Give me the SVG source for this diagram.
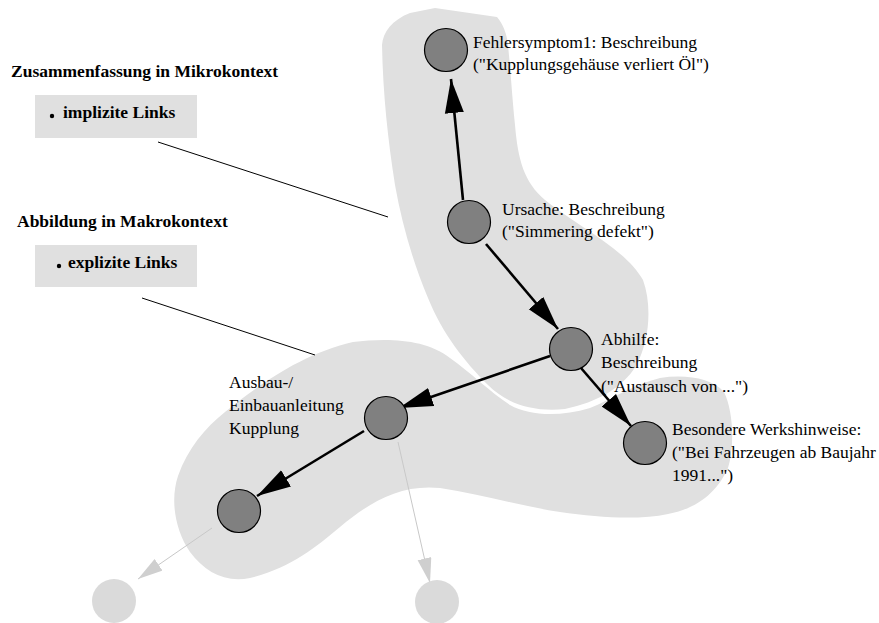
<svg xmlns="http://www.w3.org/2000/svg" width="879" height="623" viewBox="0 0 879 623">
  <style>
    .blob { fill: #e0e0e0; stroke: none; }
    .node { fill: #808080; stroke: #000; stroke-width: 1.2; }
    .ghost { fill: #dadada; stroke: none; }
    .link { stroke: #000; stroke-width: 2.6; fill: none; }
    .faint { stroke: #c8c8c8; stroke-width: 1; fill: none; }
    .pointer { stroke: #000; stroke-width: 1; fill: none; }
    .lbl { font-family: "Liberation Serif", "Times New Roman", serif; font-size: 17.5px; fill: #000; }
    .head { font-family: "Liberation Serif", "Times New Roman", serif; font-size: 17.5px; font-weight: bold; fill: #000; }
    .panel { fill: #e0e0e0; stroke: none; }
  </style>
  <defs>
    <marker id="arrow" markerUnits="userSpaceOnUse" markerWidth="36" markerHeight="22" refX="34" refY="10" orient="auto">
      <path d="M0,0.5 L34,10 L0,19.5 Z" fill="#000"/>
    </marker>
    <marker id="arrow-faint" markerUnits="userSpaceOnUse" markerWidth="26" markerHeight="16" refX="25" refY="7" orient="auto">
      <path d="M0,0 L25,7 L0,14 Z" fill="#cfcfcf"/>
    </marker>
  </defs>

  <!-- context regions -->
  <g id="regions">
    <path class="blob" d="M353,342 C385,338 425,338 450,358 C470,372 490,392 510,405 C530,416 560,417 590,408 C610,400 635,384 660,378 C685,374 712,378 724,392 C733,410 735,445 728,468 C718,490 700,508 668,514 C640,520 600,518 560,512 C520,506 480,494 440,488 C400,484 370,502 340,527 C315,548 290,568 250,578 C225,583 205,572 190,552 C175,530 170,500 178,476 C188,448 205,428 225,412 C255,388 300,354 353,342 Z"/>
    <path class="blob" d="M382,45 C383,32 392,20 410,13 L435,8 L497,17 C503,24 507,34 508,45 C511,75 512,95 515,125 C518,160 524,182 545,200 C575,225 625,248 643,280 C652,305 650,340 636,366 C622,388 598,402 565,409 C535,412 508,405 488,385 C465,362 443,335 428,298 C414,265 402,225 395,185 C388,140 383,95 382,45 Z"/>
  </g>

  <!-- pointer lines from the captions -->
  <g id="pointers">
    <line class="pointer" x1="158" y1="142" x2="388" y2="217"/>
    <line class="pointer" x1="142" y1="298" x2="315" y2="355"/>
  </g>

  <!-- connectors -->
  <g id="connectors">
    <line class="link" x1="463" y1="200" x2="451" y2="79" marker-end="url(#arrow)"/>
    <line class="link" x1="486" y1="244" x2="558" y2="329" marker-end="url(#arrow)"/>
    <line class="link" x1="550" y1="356" x2="399" y2="408" marker-end="url(#arrow)"/>
    <line class="link" x1="581" y1="368" x2="631" y2="426" marker-end="url(#arrow)"/>
    <line class="link" x1="364" y1="431" x2="257" y2="496" marker-end="url(#arrow)"/>
    <line class="faint" x1="398" y1="442" x2="430" y2="583" marker-end="url(#arrow-faint)"/>
    <line class="faint" x1="212" y1="528" x2="138" y2="579" marker-end="url(#arrow-faint)"/>
  </g>

  <!-- captions -->
  <g id="caption-micro">
    <text class="head" x="11" y="77">Zusammenfassung in Mikrokontext</text>
    <rect class="panel" x="35" y="95" width="162" height="43"/>
    <circle cx="52" cy="116" r="2.2" fill="#000"/>
    <text class="head" x="63" y="118">implizite Links</text>
  </g>
  <g id="caption-macro">
    <text class="head" x="17" y="227">Abbildung in Makrokontext</text>
    <rect class="panel" x="35" y="245" width="162" height="42"/>
    <circle cx="59" cy="266" r="2.2" fill="#000"/>
    <text class="head" x="68" y="268">explizite Links</text>
  </g>

  <!-- nodes -->
  <g id="fehlersymptom">
    <circle class="node" cx="446" cy="50" r="21.5"/>
    <text class="lbl" x="473" y="48">Fehlersymptom1: Beschreibung</text>
    <text class="lbl" x="473" y="70">("Kupplungsgehäuse verliert Öl")</text>
  </g>
  <g id="ursache">
    <circle class="node" cx="469" cy="222" r="21.5"/>
    <text class="lbl" x="502" y="215">Ursache: Beschreibung</text>
    <text class="lbl" x="502" y="237">("Simmering defekt")</text>
  </g>
  <g id="abhilfe">
    <circle class="node" cx="571" cy="349" r="21.5"/>
    <text class="lbl" x="601" y="345">Abhilfe:</text>
    <text class="lbl" x="601" y="368">Beschreibung</text>
    <text class="lbl" x="601" y="392">("Austausch von ...")</text>
  </g>
  <g id="werkshinweise">
    <circle class="node" cx="645" cy="443" r="21.5"/>
    <text class="lbl" x="672" y="435">Besondere Werkshinweise:</text>
    <text class="lbl" x="672" y="458">("Bei Fahrzeugen ab Baujahr</text>
    <text class="lbl" x="672" y="481">1991...")</text>
  </g>
  <g id="ausbau">
    <circle class="node" cx="386" cy="418" r="21.5"/>
    <text class="lbl" x="229" y="388">Ausbau-/</text>
    <text class="lbl" x="229" y="411">Einbauanleitung</text>
    <text class="lbl" x="229" y="434">Kupplung</text>
  </g>
  <g id="kupplung-schritt">
    <circle class="node" cx="239" cy="511" r="21.5"/>
  </g>
  <g id="extern-links">
    <circle class="ghost" cx="114" cy="601" r="22"/>
  </g>
  <g id="extern-rechts">
    <circle class="ghost" cx="437" cy="602" r="22"/>
  </g>
</svg>
